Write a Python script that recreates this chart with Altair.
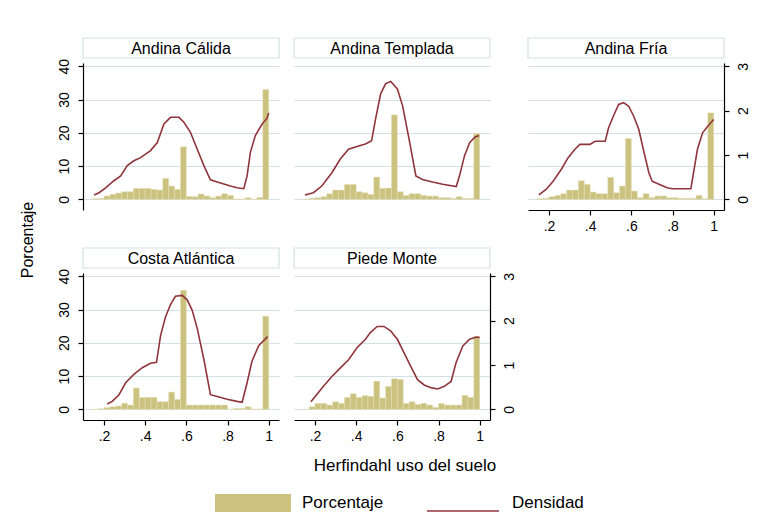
import altair as alt
import pandas as pd

FONT = "Liberation Sans"

regions = ["Andina Cálida", "Andina Templada", "Andina Fría", "Costa Atlántica", "Piede Monte"]
y_title = "Porcentaje"
x_title = "Herfindahl uso del suelo"
legend_labels = ["Porcentaje", "Densidad"]

# histogram: 30 bins of width 1/35 from 1/7 to 1
bin_edges = [k / 35 for k in range(5, 36)]

pct_andina_calida = [0.2, 0.3, 1.0, 1.5, 1.9, 2.3, 2.3, 3.3, 3.3, 3.3, 3.0, 2.8, 6.3, 4.0, 3.0, 15.8,
                     0.9, 0.8, 1.6, 1.0, 0.5, 1.0, 1.7, 1.2, 0.1, 0.1, 0.5, 0.1, 0.6, 33.0]
pct_andina_templada = [0.1, 0.3, 0.5, 0.8, 1.7, 2.8, 2.8, 4.5, 4.5, 2.3, 2.0, 1.5, 6.7, 3.3, 3.4, 25.4,
                       2.3, 1.2, 1.7, 1.7, 1.2, 1.0, 1.0, 0.5, 0.5, 0.3, 0.8, 0.3, 0.3, 19.8]
pct_andina_fria = [0.2, 0.3, 0.8, 1.2, 1.7, 2.8, 2.8, 5.6, 4.5, 2.2, 1.7, 1.7, 6.6, 2.0, 4.0, 18.3,
                   2.5, 0.5, 1.7, 0.5, 1.0, 1.0, 0.5, 0.5, 0.3, 0.3, 0.3, 1.2, 0.2, 26.0]
pct_costa_atlantica = [0.0, 0.2, 0.5, 0.8, 1.0, 1.8, 1.3, 6.4, 3.6, 3.6, 3.6, 2.3, 2.3, 5.2, 3.0, 35.8,
                       1.3, 1.3, 1.3, 1.3, 1.3, 1.3, 1.3, 0.0, 0.3, 0.3, 0.8, 0.1, 0.1, 28.0]
pct_piede_monte = [0.0, 0.8, 1.8, 1.8, 1.3, 2.3, 1.8, 3.6, 4.7, 3.6, 4.1, 3.9, 8.5, 3.4, 6.9, 9.2,
                   9.0, 1.8, 2.3, 1.5, 1.8, 1.3, 0.6, 1.8, 1.3, 1.3, 1.3, 4.2, 3.6, 21.9]

dx_andina_calida = [0.152, 0.176, 0.208, 0.248, 0.281, 0.313, 0.345, 0.378, 0.426, 0.459, 0.491, 0.523,
                    0.564, 0.588, 0.620, 0.653, 0.685, 0.717, 0.750, 0.814, 0.846, 0.879, 0.895, 0.911,
                    0.935, 0.968, 0.992, 1.0]
dy_andina_calida = [0.10, 0.15, 0.26, 0.42, 0.53, 0.76, 0.87, 0.94, 1.10, 1.28, 1.70, 1.85,
                    1.85, 1.74, 1.51, 1.13, 0.76, 0.44, 0.39, 0.30, 0.26, 0.24, 0.53, 1.06,
                    1.44, 1.70, 1.83, 1.95]
dx_andina_templada = [0.151, 0.192, 0.233, 0.282, 0.323, 0.363, 0.404, 0.445, 0.475, 0.494, 0.519, 0.543,
                      0.568, 0.600, 0.625, 0.657, 0.690, 0.722, 0.771, 0.820, 0.886, 0.902, 0.926, 0.951,
                      0.976, 0.997]
dy_andina_templada = [0.10, 0.15, 0.30, 0.60, 0.91, 1.13, 1.19, 1.25, 1.32, 1.81, 2.38, 2.61,
                      2.66, 2.49, 2.12, 1.36, 0.53, 0.45, 0.39, 0.34, 0.29, 0.53, 0.98, 1.28,
                      1.40, 1.44]
dx_andina_fria = [0.151, 0.187, 0.220, 0.260, 0.293, 0.326, 0.350, 0.399, 0.424, 0.473, 0.489, 0.513,
                  0.538, 0.562, 0.587, 0.611, 0.636, 0.660, 0.685, 0.701, 0.734, 0.774, 0.799, 0.889,
                  0.905, 0.921, 0.946, 0.978, 1.0]
dy_andina_fria = [0.10, 0.23, 0.41, 0.68, 0.94, 1.13, 1.24, 1.24, 1.31, 1.31, 1.61, 1.88,
                  2.14, 2.18, 2.10, 1.88, 1.58, 1.09, 0.60, 0.41, 0.34, 0.26, 0.24, 0.24,
                  0.68, 1.13, 1.50, 1.69, 1.80]
dx_costa_atlantica = [0.216, 0.240, 0.273, 0.305, 0.345, 0.386, 0.426, 0.455, 0.475, 0.499, 0.523, 0.547,
                      0.580, 0.604, 0.628, 0.653, 0.685, 0.717, 0.750, 0.798, 0.846, 0.871, 0.895, 0.919,
                      0.952, 0.995]
dy_costa_atlantica = [0.12, 0.18, 0.33, 0.60, 0.79, 0.94, 1.04, 1.06, 1.67, 2.09, 2.36, 2.55,
                      2.57, 2.47, 2.24, 1.82, 1.13, 0.33, 0.29, 0.23, 0.18, 0.16, 0.60, 1.09,
                      1.44, 1.64]
dx_piede_monte = [0.180, 0.208, 0.241, 0.282, 0.322, 0.363, 0.404, 0.445, 0.469, 0.502, 0.535, 0.567,
                  0.600, 0.632, 0.665, 0.698, 0.730, 0.763, 0.796, 0.828, 0.861, 0.885, 0.918, 0.951,
                  0.984, 1.0]
dy_piede_monte = [0.17, 0.33, 0.52, 0.74, 0.93, 1.12, 1.39, 1.58, 1.73, 1.87, 1.87, 1.77,
                  1.58, 1.28, 0.97, 0.67, 0.55, 0.49, 0.46, 0.52, 0.63, 1.05, 1.43, 1.58,
                  1.63, 1.62]

pct_by = dict(zip(regions, [pct_andina_calida, pct_andina_templada, pct_andina_fria,
                            pct_costa_atlantica, pct_piede_monte]))
dx_by = dict(zip(regions, [dx_andina_calida, dx_andina_templada, dx_andina_fria,
                           dx_costa_atlantica, dx_piede_monte]))
dy_by = dict(zip(regions, [dy_andina_calida, dy_andina_templada, dy_andina_fria,
                           dy_costa_atlantica, dy_piede_monte]))

pct_ticks = [0, 10, 20, 30, 40]
dens_ticks = [0, 1, 2, 3]
x_ticks = [0.2, 0.4, 0.6, 0.8, 1.0]

BAR = "#cac27e"
LINE = "#90353b"
GRID = "#d3e0e6"
W, H, TOP = 196, 172, 25
PCT_DOM = [-3.2, 41]
DEN_DOM = [PCT_DOM[0] * 0.075, PCT_DOM[1] * 0.075]
X_DOM = [0.098, 1.05]

axis_common = dict(domainColor="#000", domainWidth=1.2, tickColor="#000", tickWidth=1.2,
                   tickSize=5, labelFont=FONT, labelFontSize=14, labelColor="#000", title=None)


def panel(name, left, right, bottom):
    bars_df = pd.DataFrame({"x0": bin_edges[:-1], "x1": bin_edges[1:], "pct": pct_by[name],
                            "base": [0.0] * len(pct_by[name])})
    line_df = pd.DataFrame({"hx": dx_by[name], "dens": dy_by[name]})
    xscale = alt.Scale(domain=X_DOM, nice=False, zero=False)
    if bottom:
        xaxis = alt.Axis(values=x_ticks, grid=False, labelPadding=4,
                         labelExpr="datum.value >= 0.99 ? '1' : slice(format(datum.value, '.1f'), 1)",
                         **axis_common)
    else:
        xaxis = None
    if left:
        yaxis = alt.Axis(values=pct_ticks, grid=True, gridColor=GRID, gridWidth=1,
                         labelAngle=-90, labelAlign="center", labelBaseline="bottom",
                         labelPadding=7, **axis_common)
    else:
        yaxis = alt.Axis(values=pct_ticks, grid=True, gridColor=GRID, gridWidth=1,
                         labels=False, ticks=False, domain=False, title=None)
    if right:
        raxis = alt.Axis(values=dens_ticks, grid=False, orient="right",
                         labelAngle=-90, labelAlign="center", labelBaseline="top",
                         labelPadding=7, **axis_common)
    else:
        raxis = None

    bars = alt.Chart(bars_df).mark_bar(color=BAR, stroke="#e6e0b8", strokeWidth=0.5).encode(
        x=alt.X("x0:Q", scale=xscale, axis=xaxis),
        x2="x1:Q",
        y=alt.Y("pct:Q", scale=alt.Scale(domain=PCT_DOM, range=[H, TOP], nice=False, zero=False),
                axis=yaxis),
        y2="base:Q",
    )
    line = alt.Chart(line_df).mark_line(color=LINE, strokeWidth=1.6).encode(
        x=alt.X("hx:Q", scale=xscale, axis=xaxis),
        y=alt.Y("dens:Q", scale=alt.Scale(domain=DEN_DOM, range=[H, TOP], nice=False, zero=False),
                axis=raxis),
    )
    tdf = pd.DataFrame({"t": [name]})
    box = alt.Chart(tdf).mark_rect(fill="white", stroke=GRID, strokeWidth=1.2).encode(
        x=alt.value(0), x2=alt.value(W), y=alt.value(0), y2=alt.value(20))
    txt = alt.Chart(tdf).mark_text(font=FONT, fontSize=16, color="#000", baseline="middle").encode(
        text="t:N", x=alt.value(W / 2), y=alt.value(10.5))
    return alt.layer(box, bars, line, txt).resolve_scale(y="independent").properties(width=W, height=H)


p1 = panel(regions[0], True, False, False)
p2 = panel(regions[1], False, False, False)
p3 = panel(regions[2], False, True, True)
p4 = panel(regions[3], True, False, True)
p5 = panel(regions[4], False, True, True)

row1 = alt.hconcat(alt.hconcat(p1, p2, spacing=13), p3, spacing=36)
row2 = alt.hconcat(p4, p5, spacing=13)

# footer: x-axis title and legend (positions relative to footer origin)
FX = 83
FY = 453
ft = pd.DataFrame({"t": [x_title]})
xt = alt.Chart(ft).mark_text(font=FONT, fontSize=17, color="#000", baseline="middle").encode(
    text="t:N", x=alt.value(405 - FX), y=alt.value(466 - FY))
lg1 = pd.DataFrame({"t": [legend_labels[0]]})
lg2 = pd.DataFrame({"t": [legend_labels[1]]})
sw = alt.Chart(lg1).mark_rect(color=BAR).encode(
    x=alt.value(215 - FX), x2=alt.value(291 - FX), y=alt.value(494 - FY), y2=alt.value(512 - FY))
sw_t = alt.Chart(lg1).mark_text(font=FONT, fontSize=17, color="#000", align="left", baseline="middle").encode(
    text="t:N", x=alt.value(302 - FX), y=alt.value(503 - FY))
ln = alt.Chart(lg2).mark_rule(color=LINE, strokeWidth=1.6).encode(
    x=alt.value(427 - FX), x2=alt.value(499 - FX), y=alt.value(511 - FY))
ln_t = alt.Chart(lg2).mark_text(font=FONT, fontSize=17, color="#000", align="left", baseline="middle").encode(
    text="t:N", x=alt.value(512 - FX), y=alt.value(503 - FY))
footer = alt.layer(xt, sw, sw_t, ln, ln_t).properties(width=560, height=60)

body = alt.vconcat(alt.vconcat(row1, row2, spacing=14), footer, spacing=10)

yt = alt.Chart(pd.DataFrame({"t": [y_title]})).mark_text(
    font=FONT, fontSize=16, color="#000", angle=270, baseline="middle").encode(
    text="t:N", x=alt.value(20), y=alt.value(202)).properties(width=30, height=400)

chart = alt.hconcat(yt, body, spacing=18).properties(
    padding={"top": 29, "left": 0, "right": 0, "bottom": 0}
).configure_view(stroke=None)

chart.save("out.html", embed_options={"renderer": "svg", "actions": False})
